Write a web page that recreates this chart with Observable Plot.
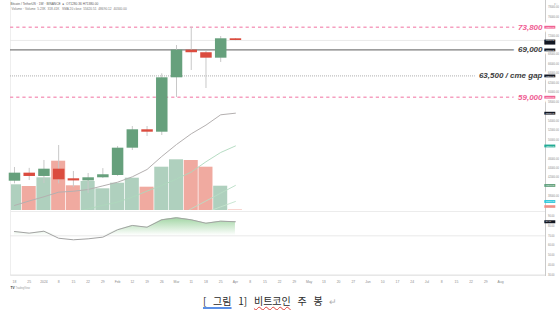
<!DOCTYPE html>
<html>
<head>
<meta charset="utf-8">
<script src="https://cdn.jsdelivr.net/npm/d3@7"></script>
<script src="https://cdn.jsdelivr.net/npm/@observablehq/plot@0.6"></script>
<style>
html,body{margin:0;padding:0;background:#fff;}
#wrap{position:relative;width:560px;height:310px;overflow:hidden;}
#wrap svg{position:absolute;}
#cap{position:absolute;left:203px;top:294px;font-family:"Noto Sans CJK KR",sans-serif;font-size:10px;line-height:13px;word-spacing:4.5px;color:#2b2b2b;white-space:pre;}
#cap .b{text-decoration:underline;text-decoration-color:#5b8fe6;text-decoration-thickness:1.6px;text-underline-offset:2px;}
#cap .w{text-decoration:underline wavy #e0413a;text-decoration-thickness:0.7px;text-underline-offset:1px;}
#cap .r{color:#b0b0b0;font-size:9px;}
</style>
</head>
<body>
<div id="wrap"><div id="cap"><span class="b">[ 그림</span> 1] <span class="w">비트코인</span> 주 봉 <span class="r">↵</span></div></div>
<script>
// ---------- data ----------
const weeks = ["2023-12-18","2023-12-25","2024-01-01","2024-01-08","2024-01-15","2024-01-22","2024-01-29","2024-02-05","2024-02-12","2024-02-19","2024-02-26","2024-03-04","2024-03-11","2024-03-18","2024-03-25","2024-04-01"];
const opens  = [41240, 42940, 42240, 43780, 41750, 41300, 41960, 42450, 48220, 52110, 51600, 63100, 68950, 68400, 67250, 71350];
const highs  = [44140, 43950, 45620, 48790, 43300, 42870, 43900, 48580, 52800, 52800, 63950, 69930, 73800, 68700, 71830, 71400];
const lows   = [40690, 41380, 40750, 40690, 39900, 38640, 41800, 42260, 47740, 50700, 50900, 58940, 64650, 60840, 66340, 70950];
const closes = [42940, 42240, 43780, 41540, 41300, 41960, 42600, 48220, 52110, 51600, 63100, 68950, 68400, 67250, 71350, 70990];
const volumes = [257, 240, 327, 493, 247, 290, 217, 273, 323, 233, 433, 507, 500, 433, 243, 5]; // thousand BTC
const sma20 = [36110, 37060, 37950, 38920, 39110, 39490, 40250, 41030, 42170, 43720, 46470, 49000, 51260, 53100, 55280, 55620];
const maA = [null, null, null, null, 34630, 35390, 36150, 36810, 37860, 39150, 40340, 41710, 43170, 45350, 47310, 48690];
const maB = [null, null, null, null, null, null, null, null, null, null, null, 33470, 35420, 37060, 38710, 40340];
const maC = [null, null, null, null, null, null, null, null, null, null, null, null, 33530, 34670, 35810, 36950];
const rsi = [74.4, 72.7, 74.7, 67.5, 65.9, 66.9, 68.6, 76.2, 80.6, 78.8, 86.4, 88.5, 86.4, 82.9, 85.0, 84.4];

const levelValues = [73800, 69000, 63500, 59000];
const levelLabels = ["73,800", "69,000", "63,500 / cme gap", "59,000"];

// price-axis labels left visible between the coloured value boxes
const priceTicks = [38000, 42000, 44000, 46000, 50000, 52000, 54000, 58000, 60000, 62000, 64000, 66000, 68000, 72000, 76000, 78000];
const rsiTicks = [30, 40, 50, 60, 70, 80, 90];
const xTickLabels = ["18","25","2024","8","15","22","29","Feb","12","19","26","Mar","11","18","25","Apr","8","15","22","29","May","13","20","27","Jun","10","17","24","Jul","8","15","22","29","Aug"];
const header1 = "Bitcoin / TetherUS · 1W · BINANCE  ●  O71280.36 H71380.00";
const header2 = "Volume · Volume  5.23K  318.41K   SMA 20 close  55620.51  48690.12  40340.00";

// ---------- styles ----------
const GREEN = "#66a07c", RED = "#db4c3f";
const VGREEN = "#afd0be", VRED = "#f0aaa0";
const levelStroke = ["#f6a0c0", "#7d7d7d", "#a5a5a5", "#f6a0c0"];
const levelWidth = [1.6, 1.3, 0.9, 1.6];
const levelDash = ["3.2,3", null, "1,1", "3.2,3"];
const levelText = ["#ef5d93", "#3d3d3d", "#3d3d3d", "#ef5d93"];
const FONT = "'Liberation Sans', Arial, sans-serif";

const idx = weeks.map((d, i) => i);
const up = i => closes[i] >= opens[i];
const W = 560;
const xDomain = [-0.27, 36.05];
const priceDomain = [35045, 79445];
const common = {width: W, marginLeft: 10, marginRight: 15, style: {background: "transparent", fontFamily: FONT}};

const levelTable = levelValues.map((v, k) => ({v, label: levelLabels[k], color: levelText[k]}));

// ---------- volume layer ----------
const volPlot = Plot.plot({
  ...common, height: 211, marginTop: 0, marginBottom: 1,
  x: {domain: xDomain, axis: null},
  y: {domain: [0, 2100], axis: null},
  color: {type: "identity"},
  marks: [
    Plot.rect(idx, {x1: i => i - 0.5, x2: i => i + 0.5, y1: 0, y2: i => volumes[i],
      fill: i => up(i) ? VGREEN : VRED, insetLeft: 0.35, insetRight: 0.35, clip: true})
  ]
});

// ---------- price layer ----------
const pricePlot = Plot.plot({
  ...common, height: 211, marginTop: 0, marginBottom: 1,
  x: {domain: xDomain, axis: null},
  y: {domain: priceDomain},
  color: {type: "identity"},
  marks: [
    Plot.frame({anchor: "left", stroke: "#eeeeee"}),
    Plot.frame({anchor: "right", stroke: "#cacaca"}),
    Plot.ruleY([closes[closes.length - 1]], {stroke: "#e6e6e6", strokeWidth: 0.8}),
    ...levelValues.map((v, k) => Plot.ruleY([v], {stroke: levelStroke[k], strokeWidth: levelWidth[k], strokeDasharray: levelDash[k] || undefined})),
    Plot.text(levelTable, {y: "v", text: "label", fill: "color", frameAnchor: "right", textAnchor: "end", dx: -3,
      fontSize: 8, fontWeight: "bold", fontStyle: "italic", stroke: "white", strokeWidth: 9, fontFamily: FONT}),
    Plot.lineY(idx, {x: i => i, y: i => maA[i], stroke: "#aed8bc", strokeWidth: 0.9, clip: true}),
    Plot.lineY(idx, {x: i => i, y: i => maB[i], stroke: "#b9dec5", strokeWidth: 0.9, clip: true}),
    Plot.lineY(idx, {x: i => i, y: i => maC[i], stroke: "#c4e3cd", strokeWidth: 0.9, clip: true}),
    Plot.lineY(idx, {x: i => i, y: i => sma20[i], stroke: "#b4b0b0", strokeWidth: 1, clip: true}),
    Plot.ruleX(idx, {x: i => i, y1: i => lows[i], y2: i => highs[i], stroke: "#c8c8c8", strokeWidth: 1}),
    Plot.ruleX(idx, {x: i => i, y1: i => opens[i], y2: i => closes[i], stroke: i => up(i) ? GREEN : RED, strokeWidth: 11.5}),
    Plot.axisY({ticks: priceTicks, anchor: "right", tickSize: 0, tickPadding: 2.5, fontSize: 2.6, fill: "#8a8a8a", tickFormat: d => d.toFixed(2)}),
    Plot.text([header1], {frameAnchor: "top-left", textAnchor: "start", lineAnchor: "top", dy: 2.4, fontSize: 3.2, fill: "#5a5a5a"}),
    Plot.text([header2], {frameAnchor: "top-left", textAnchor: "start", lineAnchor: "top", dx: 1, dy: 7.4, fontSize: 3.2, fill: "#7a7a7a"})
  ]
});

// ---------- RSI layer ----------
const rsiPlot = Plot.plot({
  ...common, height: 79, marginTop: 0, marginBottom: 15,
  x: {domain: xDomain},
  y: {domain: [29.28, 94.92]},
  marks: [
    Plot.frame({anchor: "top", stroke: "#ececec"}),
    Plot.frame({anchor: "bottom", stroke: "#e8e8e8"}),
    Plot.frame({anchor: "left", stroke: "#eeeeee"}),
    Plot.frame({anchor: "right", stroke: "#cacaca"}),
    Plot.ruleY([70], {stroke: "#e3e3e3", strokeWidth: 0.8}),
    Plot.ruleY([30], {stroke: "#e6e6e6", strokeWidth: 0.8}),
    Plot.areaY(idx, {x: i => i, y1: 70, y2: i => Math.max(rsi[i], 70), fill: "url(#rsiFill)"}),
    Plot.lineY(idx, {x: i => i, y: i => rsi[i], stroke: "#a3a3a3", strokeWidth: 1}),
    Plot.axisY({ticks: rsiTicks, anchor: "right", tickSize: 0, tickPadding: 2.5, fontSize: 2.6, fill: "#8a8a8a", tickFormat: d => d.toFixed(2)}),
    Plot.axisX({ticks: xTickLabels.map((d, i) => i), anchor: "bottom", tickSize: 0, tickPadding: 5.5, fontSize: 3.4, fill: "#8a8a8a", tickFormat: i => xTickLabels[i]}),
    Plot.text(["TV"], {frameAnchor: "bottom-left", textAnchor: "start", dy: 13, fontSize: 3.2, fontWeight: "bold", fill: "#333"}),
    Plot.text(["TradingView"], {frameAnchor: "bottom-left", textAnchor: "start", dx: 5, dy: 13, fontSize: 2.6, fill: "#9a9a9a"})
  ]
});
{
  const ns = "http://www.w3.org/2000/svg";
  const ys = rsiPlot.scale("y");
  const defs = document.createElementNS(ns, "defs");
  const lg = document.createElementNS(ns, "linearGradient");
  lg.setAttribute("id", "rsiFill");
  lg.setAttribute("gradientUnits", "userSpaceOnUse");
  lg.setAttribute("x1", 0); lg.setAttribute("x2", 0);
  lg.setAttribute("y1", ys.apply(100)); lg.setAttribute("y2", ys.apply(70));
  [[0, 0.85], [1, 0]].forEach(([o, a]) => {
    const s = document.createElementNS(ns, "stop");
    s.setAttribute("offset", o); s.setAttribute("stop-color", "#4caf50"); s.setAttribute("stop-opacity", a);
    lg.appendChild(s);
  });
  defs.appendChild(lg);
  rsiPlot.insertBefore(defs, rsiPlot.firstChild);
}

// ---------- right price-axis boxes ----------
const boxValues = [73800, 69000, 63500, 59000, sma20[sma20.length - 1], maA[maA.length - 1], maB[maB.length - 1], maC[maC.length - 1]];
const boxColors = ["#f06292", "#131722", "#131722", "#f06292", "#131722", "#22ab94", "#5f9f7a", "#26c6da"];
const boxTable = boxValues.map((v, k) => ({v, color: boxColors[k]}));
const narrow = {width: 12, marginLeft: 0.3, marginRight: 0.7, style: {background: "transparent", fontFamily: FONT}};

const boxPrice = Plot.plot({
  ...narrow, height: 211, marginTop: 0, marginBottom: 1,
  y: {domain: priceDomain, axis: null},
  color: {type: "identity"},
  marks: [
    Plot.ruleY(boxTable, {y: "v", stroke: "color", strokeWidth: 2.8}),
    Plot.ruleY([closes[closes.length - 1]], {stroke: "#131722", strokeWidth: 5, dy: 1.6}),
    Plot.text(boxTable, {y: "v", text: d => d.v.toFixed(2), fill: "white", fontSize: 2.1, frameAnchor: "left", textAnchor: "start", dx: 1}),
    Plot.text([closes[closes.length - 1]], {y: d => d, text: d => d.toFixed(2), fill: "white", fontSize: 2.1, frameAnchor: "left", textAnchor: "start", dx: 1})
  ]
});
const boxVol = Plot.plot({
  ...narrow, height: 211, marginTop: 0, marginBottom: 1,
  y: {domain: [0, 2100], axis: null},
  marks: [
    Plot.ruleY([volumes[volumes.length - 1]], {stroke: "#ef8f86", strokeWidth: 2.6, dy: -3.5})
  ]
});
const boxRsi = Plot.plot({
  ...narrow, height: 79, marginTop: 0, marginBottom: 15,
  y: {domain: [29.28, 94.92], axis: null},
  marks: [
    Plot.ruleY([rsi[rsi.length - 1]], {stroke: "#131722", strokeWidth: 3}),
    Plot.text([rsi[rsi.length - 1]], {y: d => d, text: d => d.toFixed(2), fill: "white", fontSize: 2.1, frameAnchor: "left", textAnchor: "start", dx: 1})
  ]
});

// ---------- assemble ----------
const wrap = document.getElementById("wrap");
const cap = document.getElementById("cap");
[[volPlot, 0, 0], [pricePlot, 0, 0], [rsiPlot, 0, 211], [boxVol, 544, 0], [boxPrice, 544, 0], [boxRsi, 544, 211]].forEach(([svg, l, t]) => {
  svg.style.position = "absolute";
  svg.style.left = l + "px";
  svg.style.top = t + "px";
  svg.style.maxWidth = "none";
  wrap.insertBefore(svg, cap);
});
</script>
</body>
</html>
